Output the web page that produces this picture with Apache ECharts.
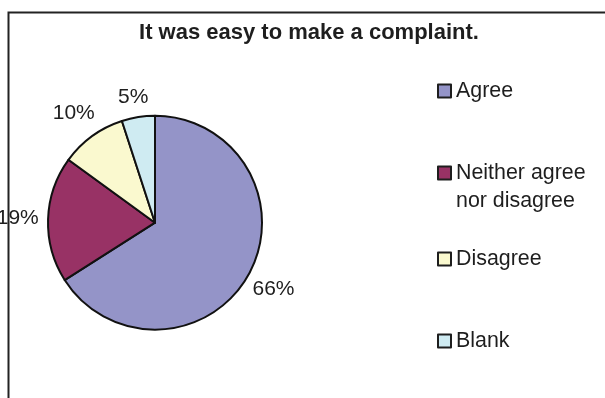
<!DOCTYPE html>
<html>
<head>
<meta charset="utf-8">
<script src="https://cdn.jsdelivr.net/npm/echarts@6/dist/echarts.min.js"></script>
<style>
  html, body { margin: 0; padding: 0; background: #fff; }
  #chart { width: 605px; height: 398px; }
</style>
</head>
<body>
<div id="chart"></div>
<script>
// Survey answers for one statement
const titleText = 'It was easy to make a complaint.';
const categories = ['Agree', 'Neither agree\nnor disagree', 'Disagree', 'Blank'];
const values = [66, 19, 10, 5];
const colors = ['#9494C8', '#983265', '#FAF9CF', '#CFEBF2'];

// Pie geometry (pixels)
const CX = 155, CY = 222.7, R = 107, LABEL_GAP = 7;
const FONT = '"Liberation Sans", Arial, sans-serif';
const INK = '#1e1e1e';

const total = values.reduce((a, b) => a + b, 0);

// Place each percentage label just outside its slice, along the slice's mid-angle
function placeLabel(params) {
  const i = params.dataIndex;
  let before = 0;
  for (let k = 0; k < i; k++) before += values[k];
  const mid = (before + values[i] / 2) / total * Math.PI * 2;
  const dx = Math.sin(mid), dy = -Math.cos(mid);
  const w = params.labelRect.width, h = params.labelRect.height;
  const ext = Math.abs(dx) * w / 2 + Math.abs(dy) * h / 2;
  const d = R + LABEL_GAP + ext;
  return { x: CX + dx * d - 2, y: CY + dy * d, align: 'center', verticalAlign: 'middle' };
}

// One legend block per category; a two-line entry keeps its swatch beside the first line
const legendTops = [77, 131, 245, 327];
const LINE_H = 28;
const legends = categories.map((name, i) => ({
  data: [name],
  orient: 'vertical',
  left: 437,
  top: legendTops[i],
  padding: 0,
  selectedMode: false,
  itemWidth: 13,
  itemHeight: 13,
  itemGap: 0,
  icon: 'rect',
  itemStyle: { borderColor: INK, borderWidth: 2 },
  formatter: n => (n.indexOf('\n') >= 0 ? '\n' + n : n),
  textStyle: {
    fontFamily: FONT,
    fontSize: 21.4,
    color: INK,
    lineHeight: LINE_H
  }
}));

const chart = echarts.init(document.getElementById('chart'), null, { renderer: 'canvas' });
chart.setOption({
  animation: false,
  backgroundColor: '#ffffff',
  color: colors,
  title: {
    text: titleText,
    left: 309,
    textAlign: 'center',
    top: 22,
    padding: 0,
    textStyle: { fontFamily: FONT, fontSize: 22, fontWeight: 'bold', color: INK }
  },
  legend: legends,
  graphic: [{
    type: 'rect',
    silent: true,
    shape: { x: 8.5, y: 12.5, width: 700, height: 500 },
    style: { fill: null, stroke: '#222', lineWidth: 2 }
  }],
  series: [{
    type: 'pie',
    center: [CX, CY],
    radius: R,
    startAngle: 90,
    clockwise: true,
    avoidLabelOverlap: false,
    itemStyle: { borderColor: '#111', borderWidth: 2 },
    emphasis: { disabled: true },
    label: {
      show: true,
      position: 'outside',
      formatter: p => values[p.dataIndex] + '%',
      fontFamily: FONT,
      fontSize: 21,
      color: INK
    },
    labelLine: { show: false },
    labelLayout: placeLabel,
    data: categories.map((name, i) => ({ name: name, value: values[i] }))
  }]
});
</script>
</body>
</html>
